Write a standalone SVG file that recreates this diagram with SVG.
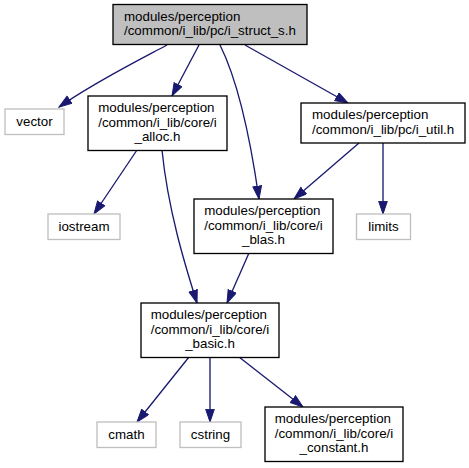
<svg xmlns="http://www.w3.org/2000/svg" width="469" height="468" viewBox="0 0 469 468">
<style>
text{font-family:"Liberation Sans",Arial,sans-serif;font-size:13.33px;fill:#000}
.n{fill:#fff;stroke:#000;stroke-width:1.33}
.r{fill:#bfbfbf;stroke:#000;stroke-width:1.33}
.x{fill:#fff;stroke:#bfbfbf;stroke-width:1.33}
.c{text-anchor:middle}
#edges path{fill:none;stroke:#191970;stroke-width:1.33;marker-end:url(#ah)}
</style>
<defs>
<marker id="ah" markerUnits="userSpaceOnUse" viewBox="0 0 14 10" markerWidth="14" markerHeight="10" refX="13.3" refY="4.65" orient="auto">
<path d="M0.5,0.3 L13.3,4.65 L0.5,9 z" fill="#191970" stroke="#191970" stroke-width="1"/>
</marker>
</defs>
<rect width="469" height="468" fill="#fff"/>
<g id="edges">
<path d="M167,45 C135,62 95,82 59,107"/>
<path d="M199,45 L172,96"/>
<path d="M220,45 C240,85 252,150 259,199"/>
<path d="M245,45 L348,103"/>
<path d="M137,150 L94,214"/>
<path d="M162,150 C168,210 185,265 197,303"/>
<path d="M359,143 L294,199"/>
<path d="M383,143 L383,214"/>
<path d="M249,253 L227,303"/>
<path d="M189,357 L137,422"/>
<path d="M210,357 L210,422"/>
<path d="M239,357 L303,407"/>
</g>
<g id="root">
<rect class="r" x="113" y="4.5" width="194" height="40"/>
<text x="124" y="20.5">modules/perception</text>
<text x="124" y="35.2">/common/i_lib/pc/i_struct_s.h</text>
</g>
<g id="vector">
<rect class="x" x="5" y="109" width="59" height="25.5"/>
<text class="c" x="34.5" y="126.3">vector</text>
</g>
<g id="alloc">
<rect class="n" x="88" y="96" width="139" height="54.5"/>
<text x="98.2" y="112">modules/perception</text>
<text x="98.2" y="126.7">/common/i_lib/core/i</text>
<text class="c" x="157.5" y="141.3">_alloc.h</text>
</g>
<g id="util">
<rect class="n" x="301" y="103" width="164" height="40"/>
<text x="312" y="119">modules/perception</text>
<text x="312" y="133.7">/common/i_lib/pc/i_util.h</text>
</g>
<g id="iostream">
<rect class="x" x="48" y="214" width="72" height="25.5"/>
<text class="c" x="84" y="231.3">iostream</text>
</g>
<g id="blas">
<rect class="n" x="194" y="199" width="139" height="54.5"/>
<text x="204.2" y="215">modules/perception</text>
<text x="204.2" y="229.7">/common/i_lib/core/i</text>
<text class="c" x="263.5" y="244.3">_blas.h</text>
</g>
<g id="limits">
<rect class="x" x="356.5" y="214" width="54" height="25.5"/>
<text class="c" x="383.5" y="231.3">limits</text>
</g>
<g id="basic">
<rect class="n" x="141" y="303" width="138" height="54.5"/>
<text x="150.7" y="319">modules/perception</text>
<text x="150.7" y="333.7">/common/i_lib/core/i</text>
<text class="c" x="210" y="348.3">_basic.h</text>
</g>
<g id="cmath">
<rect class="x" x="97" y="422" width="59" height="25.5"/>
<text class="c" x="126.5" y="439.3">cmath</text>
</g>
<g id="cstring">
<rect class="x" x="180" y="422" width="61" height="25.5"/>
<text class="c" x="210.5" y="439.3">cstring</text>
</g>
<g id="constant">
<rect class="n" x="265" y="407" width="138" height="54.5"/>
<text x="274.7" y="423">modules/perception</text>
<text x="274.7" y="437.7">/common/i_lib/core/i</text>
<text class="c" x="334" y="452.3">_constant.h</text>
</g>
</svg>
